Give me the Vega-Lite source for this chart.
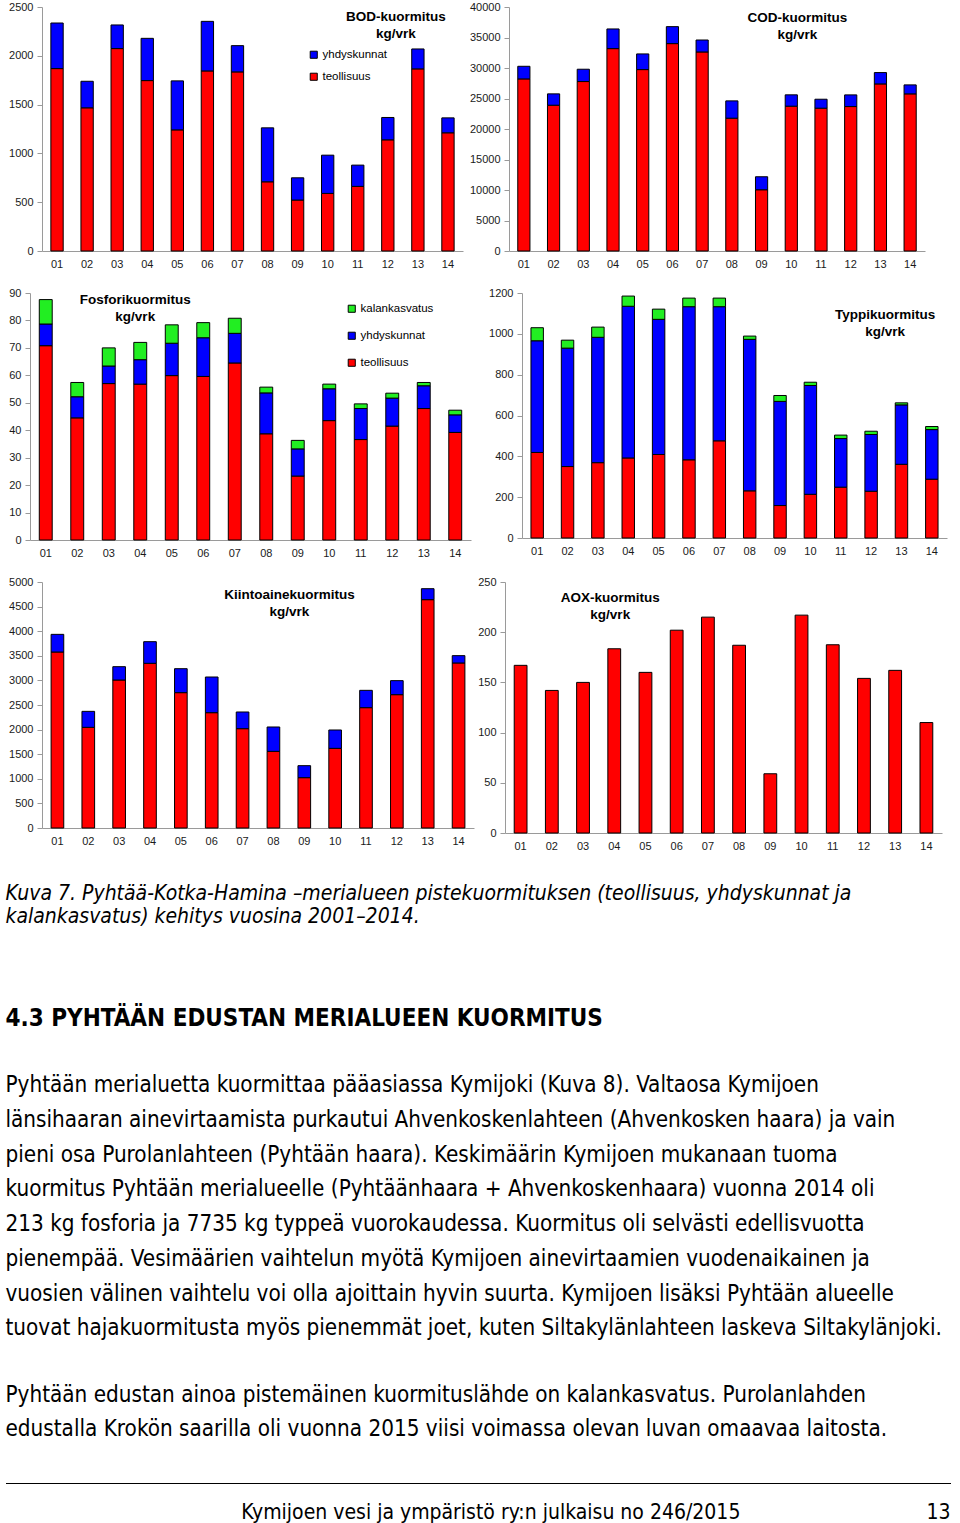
{
  "$schema": "https://vega.github.io/schema/vega-lite/v6.json",
  "padding": {"left": 5, "top": 1, "right": 0, "bottom": 0},
  "background": "white",
  "spacing": 32,
  "resolve": {"scale": {"color": "independent", "x": "independent", "y": "independent"}, "legend": {"color": "independent"}},
  "datasets": {
    "lahteet": [
      {"lahde": "teollisuus", "jarjestys": 1},
      {"lahde": "yhdyskunnat", "jarjestys": 2},
      {"lahde": "kalankasvatus", "jarjestys": 3}
    ],
    "bod": [
      {"vuosi": "01", "lahde": "teollisuus", "kuorma": 1869}, {"vuosi": "01", "lahde": "yhdyskunnat", "kuorma": 467},
      {"vuosi": "02", "lahde": "teollisuus", "kuorma": 1467}, {"vuosi": "02", "lahde": "yhdyskunnat", "kuorma": 272},
      {"vuosi": "03", "lahde": "teollisuus", "kuorma": 2074}, {"vuosi": "03", "lahde": "yhdyskunnat", "kuorma": 242},
      {"vuosi": "04", "lahde": "teollisuus", "kuorma": 1746}, {"vuosi": "04", "lahde": "yhdyskunnat", "kuorma": 433},
      {"vuosi": "05", "lahde": "teollisuus", "kuorma": 1241}, {"vuosi": "05", "lahde": "yhdyskunnat", "kuorma": 502},
      {"vuosi": "06", "lahde": "teollisuus", "kuorma": 1845}, {"vuosi": "06", "lahde": "yhdyskunnat", "kuorma": 508},
      {"vuosi": "07", "lahde": "teollisuus", "kuorma": 1835}, {"vuosi": "07", "lahde": "yhdyskunnat", "kuorma": 269},
      {"vuosi": "08", "lahde": "teollisuus", "kuorma": 709}, {"vuosi": "08", "lahde": "yhdyskunnat", "kuorma": 553},
      {"vuosi": "09", "lahde": "teollisuus", "kuorma": 522}, {"vuosi": "09", "lahde": "yhdyskunnat", "kuorma": 228},
      {"vuosi": "10", "lahde": "teollisuus", "kuorma": 590}, {"vuosi": "10", "lahde": "yhdyskunnat", "kuorma": 392},
      {"vuosi": "11", "lahde": "teollisuus", "kuorma": 662}, {"vuosi": "11", "lahde": "yhdyskunnat", "kuorma": 218},
      {"vuosi": "12", "lahde": "teollisuus", "kuorma": 1139}, {"vuosi": "12", "lahde": "yhdyskunnat", "kuorma": 229},
      {"vuosi": "13", "lahde": "teollisuus", "kuorma": 1866}, {"vuosi": "13", "lahde": "yhdyskunnat", "kuorma": 204},
      {"vuosi": "14", "lahde": "teollisuus", "kuorma": 1211}, {"vuosi": "14", "lahde": "yhdyskunnat", "kuorma": 153}
    ],
    "cod": [
      {"vuosi": "01", "lahde": "teollisuus", "kuorma": 28210}, {"vuosi": "01", "lahde": "yhdyskunnat", "kuorma": 2070},
      {"vuosi": "02", "lahde": "teollisuus", "kuorma": 23900}, {"vuosi": "02", "lahde": "yhdyskunnat", "kuorma": 1860},
      {"vuosi": "03", "lahde": "teollisuus", "kuorma": 27780}, {"vuosi": "03", "lahde": "yhdyskunnat", "kuorma": 2020},
      {"vuosi": "04", "lahde": "teollisuus", "kuorma": 33180}, {"vuosi": "04", "lahde": "yhdyskunnat", "kuorma": 3220},
      {"vuosi": "05", "lahde": "teollisuus", "kuorma": 29740}, {"vuosi": "05", "lahde": "yhdyskunnat", "kuorma": 2570},
      {"vuosi": "06", "lahde": "teollisuus", "kuorma": 34000}, {"vuosi": "06", "lahde": "yhdyskunnat", "kuorma": 2780},
      {"vuosi": "07", "lahde": "teollisuus", "kuorma": 32630}, {"vuosi": "07", "lahde": "yhdyskunnat", "kuorma": 1960},
      {"vuosi": "08", "lahde": "teollisuus", "kuorma": 21770}, {"vuosi": "08", "lahde": "yhdyskunnat", "kuorma": 2840},
      {"vuosi": "09", "lahde": "teollisuus", "kuorma": 10040}, {"vuosi": "09", "lahde": "yhdyskunnat", "kuorma": 2130},
      {"vuosi": "10", "lahde": "teollisuus", "kuorma": 23740}, {"vuosi": "10", "lahde": "yhdyskunnat", "kuorma": 1860},
      {"vuosi": "11", "lahde": "teollisuus", "kuorma": 23410}, {"vuosi": "11", "lahde": "yhdyskunnat", "kuorma": 1470},
      {"vuosi": "12", "lahde": "teollisuus", "kuorma": 23680}, {"vuosi": "12", "lahde": "yhdyskunnat", "kuorma": 1910},
      {"vuosi": "13", "lahde": "teollisuus", "kuorma": 27390}, {"vuosi": "13", "lahde": "yhdyskunnat", "kuorma": 1860},
      {"vuosi": "14", "lahde": "teollisuus", "kuorma": 25760}, {"vuosi": "14", "lahde": "yhdyskunnat", "kuorma": 1470}
    ],
    "fosfori": [
      {"vuosi": "01", "lahde": "teollisuus", "kuorma": 70.8}, {"vuosi": "01", "lahde": "yhdyskunnat", "kuorma": 7.9}, {"vuosi": "01", "lahde": "kalankasvatus", "kuorma": 8.9},
      {"vuosi": "02", "lahde": "teollisuus", "kuorma": 44.5}, {"vuosi": "02", "lahde": "yhdyskunnat", "kuorma": 7.7}, {"vuosi": "02", "lahde": "kalankasvatus", "kuorma": 5.2},
      {"vuosi": "03", "lahde": "teollisuus", "kuorma": 57.0}, {"vuosi": "03", "lahde": "yhdyskunnat", "kuorma": 6.4}, {"vuosi": "03", "lahde": "kalankasvatus", "kuorma": 6.6},
      {"vuosi": "04", "lahde": "teollisuus", "kuorma": 56.8}, {"vuosi": "04", "lahde": "yhdyskunnat", "kuorma": 8.9}, {"vuosi": "04", "lahde": "kalankasvatus", "kuorma": 6.3},
      {"vuosi": "05", "lahde": "teollisuus", "kuorma": 59.9}, {"vuosi": "05", "lahde": "yhdyskunnat", "kuorma": 11.8}, {"vuosi": "05", "lahde": "kalankasvatus", "kuorma": 6.7},
      {"vuosi": "06", "lahde": "teollisuus", "kuorma": 59.6}, {"vuosi": "06", "lahde": "yhdyskunnat", "kuorma": 14.1}, {"vuosi": "06", "lahde": "kalankasvatus", "kuorma": 5.5},
      {"vuosi": "07", "lahde": "teollisuus", "kuorma": 64.5}, {"vuosi": "07", "lahde": "yhdyskunnat", "kuorma": 10.8}, {"vuosi": "07", "lahde": "kalankasvatus", "kuorma": 5.5},
      {"vuosi": "08", "lahde": "teollisuus", "kuorma": 38.7}, {"vuosi": "08", "lahde": "yhdyskunnat", "kuorma": 14.9}, {"vuosi": "08", "lahde": "kalankasvatus", "kuorma": 2.1},
      {"vuosi": "09", "lahde": "teollisuus", "kuorma": 23.3}, {"vuosi": "09", "lahde": "yhdyskunnat", "kuorma": 9.9}, {"vuosi": "09", "lahde": "kalankasvatus", "kuorma": 3.1},
      {"vuosi": "10", "lahde": "teollisuus", "kuorma": 43.5}, {"vuosi": "10", "lahde": "yhdyskunnat", "kuorma": 11.6}, {"vuosi": "10", "lahde": "kalankasvatus", "kuorma": 1.7},
      {"vuosi": "11", "lahde": "teollisuus", "kuorma": 36.6}, {"vuosi": "11", "lahde": "yhdyskunnat", "kuorma": 11.3}, {"vuosi": "11", "lahde": "kalankasvatus", "kuorma": 1.7},
      {"vuosi": "12", "lahde": "teollisuus", "kuorma": 41.5}, {"vuosi": "12", "lahde": "yhdyskunnat", "kuorma": 10.2}, {"vuosi": "12", "lahde": "kalankasvatus", "kuorma": 1.8},
      {"vuosi": "13", "lahde": "teollisuus", "kuorma": 47.9}, {"vuosi": "13", "lahde": "yhdyskunnat", "kuorma": 8.3}, {"vuosi": "13", "lahde": "kalankasvatus", "kuorma": 1.2},
      {"vuosi": "14", "lahde": "teollisuus", "kuorma": 39.2}, {"vuosi": "14", "lahde": "yhdyskunnat", "kuorma": 6.4}, {"vuosi": "14", "lahde": "kalankasvatus", "kuorma": 1.7}
    ],
    "typpi": [
      {"vuosi": "01", "lahde": "teollisuus", "kuorma": 419}, {"vuosi": "01", "lahde": "yhdyskunnat", "kuorma": 547}, {"vuosi": "01", "lahde": "kalankasvatus", "kuorma": 64},
      {"vuosi": "02", "lahde": "teollisuus", "kuorma": 350}, {"vuosi": "02", "lahde": "yhdyskunnat", "kuorma": 580}, {"vuosi": "02", "lahde": "kalankasvatus", "kuorma": 39},
      {"vuosi": "03", "lahde": "teollisuus", "kuorma": 369}, {"vuosi": "03", "lahde": "yhdyskunnat", "kuorma": 614}, {"vuosi": "03", "lahde": "kalankasvatus", "kuorma": 50},
      {"vuosi": "04", "lahde": "teollisuus", "kuorma": 392}, {"vuosi": "04", "lahde": "yhdyskunnat", "kuorma": 743}, {"vuosi": "04", "lahde": "kalankasvatus", "kuorma": 50},
      {"vuosi": "05", "lahde": "teollisuus", "kuorma": 409}, {"vuosi": "05", "lahde": "yhdyskunnat", "kuorma": 662}, {"vuosi": "05", "lahde": "kalankasvatus", "kuorma": 50},
      {"vuosi": "06", "lahde": "teollisuus", "kuorma": 383}, {"vuosi": "06", "lahde": "yhdyskunnat", "kuorma": 750}, {"vuosi": "06", "lahde": "kalankasvatus", "kuorma": 42},
      {"vuosi": "07", "lahde": "teollisuus", "kuorma": 476}, {"vuosi": "07", "lahde": "yhdyskunnat", "kuorma": 657}, {"vuosi": "07", "lahde": "kalankasvatus", "kuorma": 42},
      {"vuosi": "08", "lahde": "teollisuus", "kuorma": 231}, {"vuosi": "08", "lahde": "yhdyskunnat", "kuorma": 742}, {"vuosi": "08", "lahde": "kalankasvatus", "kuorma": 16},
      {"vuosi": "09", "lahde": "teollisuus", "kuorma": 159}, {"vuosi": "09", "lahde": "yhdyskunnat", "kuorma": 510}, {"vuosi": "09", "lahde": "kalankasvatus", "kuorma": 29},
      {"vuosi": "10", "lahde": "teollisuus", "kuorma": 214}, {"vuosi": "10", "lahde": "yhdyskunnat", "kuorma": 533}, {"vuosi": "10", "lahde": "kalankasvatus", "kuorma": 16},
      {"vuosi": "11", "lahde": "teollisuus", "kuorma": 249}, {"vuosi": "11", "lahde": "yhdyskunnat", "kuorma": 238}, {"vuosi": "11", "lahde": "kalankasvatus", "kuorma": 17},
      {"vuosi": "12", "lahde": "teollisuus", "kuorma": 229}, {"vuosi": "12", "lahde": "yhdyskunnat", "kuorma": 278}, {"vuosi": "12", "lahde": "kalankasvatus", "kuorma": 16},
      {"vuosi": "13", "lahde": "teollisuus", "kuorma": 361}, {"vuosi": "13", "lahde": "yhdyskunnat", "kuorma": 291}, {"vuosi": "13", "lahde": "kalankasvatus", "kuorma": 10},
      {"vuosi": "14", "lahde": "teollisuus", "kuorma": 288}, {"vuosi": "14", "lahde": "yhdyskunnat", "kuorma": 243}, {"vuosi": "14", "lahde": "kalankasvatus", "kuorma": 15}
    ],
    "kiintoaine": [
      {"vuosi": "01", "lahde": "teollisuus", "kuorma": 3577}, {"vuosi": "01", "lahde": "yhdyskunnat", "kuorma": 359},
      {"vuosi": "02", "lahde": "teollisuus", "kuorma": 2046}, {"vuosi": "02", "lahde": "yhdyskunnat", "kuorma": 325},
      {"vuosi": "03", "lahde": "teollisuus", "kuorma": 3008}, {"vuosi": "03", "lahde": "yhdyskunnat", "kuorma": 271},
      {"vuosi": "04", "lahde": "teollisuus", "kuorma": 3347}, {"vuosi": "04", "lahde": "yhdyskunnat", "kuorma": 440},
      {"vuosi": "05", "lahde": "teollisuus", "kuorma": 2751}, {"vuosi": "05", "lahde": "yhdyskunnat", "kuorma": 487},
      {"vuosi": "06", "lahde": "teollisuus", "kuorma": 2344}, {"vuosi": "06", "lahde": "yhdyskunnat", "kuorma": 725},
      {"vuosi": "07", "lahde": "teollisuus", "kuorma": 2019}, {"vuosi": "07", "lahde": "yhdyskunnat", "kuorma": 339},
      {"vuosi": "08", "lahde": "teollisuus", "kuorma": 1558}, {"vuosi": "08", "lahde": "yhdyskunnat", "kuorma": 495},
      {"vuosi": "09", "lahde": "teollisuus", "kuorma": 1023}, {"vuosi": "09", "lahde": "yhdyskunnat", "kuorma": 244},
      {"vuosi": "10", "lahde": "teollisuus", "kuorma": 1619}, {"vuosi": "10", "lahde": "yhdyskunnat", "kuorma": 373},
      {"vuosi": "11", "lahde": "teollisuus", "kuorma": 2446}, {"vuosi": "11", "lahde": "yhdyskunnat", "kuorma": 352},
      {"vuosi": "12", "lahde": "teollisuus", "kuorma": 2710}, {"vuosi": "12", "lahde": "yhdyskunnat", "kuorma": 285},
      {"vuosi": "13", "lahde": "teollisuus", "kuorma": 4641}, {"vuosi": "13", "lahde": "yhdyskunnat", "kuorma": 223},
      {"vuosi": "14", "lahde": "teollisuus", "kuorma": 3354}, {"vuosi": "14", "lahde": "yhdyskunnat", "kuorma": 149}
    ],
    "aox": [
      {"vuosi": "01", "lahde": "teollisuus", "kuorma": 167}, {"vuosi": "02", "lahde": "teollisuus", "kuorma": 142},
      {"vuosi": "03", "lahde": "teollisuus", "kuorma": 150}, {"vuosi": "04", "lahde": "teollisuus", "kuorma": 183.5},
      {"vuosi": "05", "lahde": "teollisuus", "kuorma": 160}, {"vuosi": "06", "lahde": "teollisuus", "kuorma": 202},
      {"vuosi": "07", "lahde": "teollisuus", "kuorma": 215}, {"vuosi": "08", "lahde": "teollisuus", "kuorma": 187},
      {"vuosi": "09", "lahde": "teollisuus", "kuorma": 59}, {"vuosi": "10", "lahde": "teollisuus", "kuorma": 217},
      {"vuosi": "11", "lahde": "teollisuus", "kuorma": 187.5}, {"vuosi": "12", "lahde": "teollisuus", "kuorma": 154},
      {"vuosi": "13", "lahde": "teollisuus", "kuorma": 162}, {"vuosi": "14", "lahde": "teollisuus", "kuorma": 110}
    ],
    "kuvateksti": [
      {"rivi": 1, "teksti": "Kuva 7. Pyhtää-Kotka-Hamina –merialueen pistekuormituksen (teollisuus, yhdyskunnat ja"},
      {"rivi": 2, "teksti": "kalankasvatus) kehitys vuosina 2001–2014."}
    ],
    "otsikko": [
      {"rivi": 1, "teksti": "4.3  PYHTÄÄN EDUSTAN MERIALUEEN KUORMITUS"}
    ],
    "kappale1": [
      {"rivi": 1, "teksti": "Pyhtään merialuetta kuormittaa pääasiassa Kymijoki (Kuva 8). Valtaosa Kymijoen"},
      {"rivi": 2, "teksti": "länsihaaran ainevirtaamista purkautui Ahvenkoskenlahteen (Ahvenkosken haara) ja vain"},
      {"rivi": 3, "teksti": "pieni osa Purolanlahteen (Pyhtään haara). Keskimäärin Kymijoen mukanaan tuoma"},
      {"rivi": 4, "teksti": "kuormitus Pyhtään merialueelle (Pyhtäänhaara + Ahvenkoskenhaara) vuonna 2014 oli"},
      {"rivi": 5, "teksti": "213 kg fosforia ja 7735 kg typpeä vuorokaudessa. Kuormitus oli selvästi edellisvuotta"},
      {"rivi": 6, "teksti": "pienempää. Vesimäärien vaihtelun myötä Kymijoen ainevirtaamien vuodenaikainen ja"},
      {"rivi": 7, "teksti": "vuosien välinen vaihtelu voi olla ajoittain hyvin suurta. Kymijoen lisäksi Pyhtään alueelle"},
      {"rivi": 8, "teksti": "tuovat hajakuormitusta myös pienemmät joet, kuten Siltakylänlahteen laskeva Siltakylänjoki."}
    ],
    "kappale2": [
      {"rivi": 1, "teksti": "Pyhtään edustan ainoa pistemäinen kuormituslähde on kalankasvatus. Purolanlahden"},
      {"rivi": 2, "teksti": "edustalla Krokön saarilla oli vuonna 2015 viisi voimassa olevan luvan omaavaa laitosta."}
    ]
  },
  "vconcat": [
    {
      "spacing": 18,
      "resolve": {"scale": {"color": "independent", "x": "independent", "y": "independent"}, "legend": {"color": "independent"}},
      "vconcat": [
        {
          "spacing": 6,
          "resolve": {"scale": {"color": "independent", "x": "independent", "y": "independent"}, "legend": {"color": "independent"}},
          "hconcat": [
            {
              "width": 421, "height": 244,
              "layer": [
                {
                  "data": {"name": "bod"},
                  "transform": [{"lookup": "lahde", "from": {"data": {"name": "lahteet"}, "key": "lahde", "fields": ["jarjestys"]}}],
                  "mark": {"type": "bar", "stroke": "#000000", "strokeWidth": 1},
                  "encoding": {
                    "x": {"field": "vuosi", "type": "ordinal", "scale": {"paddingInner": 0.59, "paddingOuter": 0.295}, "axis": {"title": null}},
                    "y": {"field": "kuorma", "type": "quantitative", "stack": "zero", "scale": {"domain": [0, 2500], "nice": false}, "axis": {"title": null, "values": [0, 500, 1000, 1500, 2000, 2500]}},
                    "order": {"field": "jarjestys", "type": "quantitative", "sort": "ascending"},
                    "color": {"field": "lahde", "type": "nominal", "scale": {"domain": ["yhdyskunnat", "teollisuus"], "range": ["#0000FF", "#FF0000"]},
                      "legend": {"title": null, "orient": "none", "legendX": 266, "legendY": 42, "symbolType": "square", "symbolSize": 50, "symbolStrokeColor": "#000000", "symbolStrokeWidth": 1, "labelFont": "Liberation Sans", "labelFontSize": 11.5, "labelColor": "#000000", "rowPadding": 9, "labelOffset": 3}}
                  }
                },
                {
                  "data": {"values": [{}]},
                  "mark": {"type": "text", "text": ["BOD-kuormitus", "kg/vrk"], "font": "Liberation Sans", "fontWeight": "bold", "fontSize": 13.5, "lineHeight": 17, "align": "center", "baseline": "top", "dx": 8, "dy": 3},
                  "encoding": {"x": {"datum": "12", "type": "ordinal", "axis": {"title": null}}, "y": {"datum": 2500, "type": "quantitative", "axis": {"title": null, "values": [0, 500, 1000, 1500, 2000, 2500]}}}
                }
              ]
            },
            {
              "width": 416, "height": 244,
              "layer": [
                {
                  "data": {"name": "cod"},
                  "transform": [{"lookup": "lahde", "from": {"data": {"name": "lahteet"}, "key": "lahde", "fields": ["jarjestys"]}}],
                  "mark": {"type": "bar", "stroke": "#000000", "strokeWidth": 1},
                  "encoding": {
                    "x": {"field": "vuosi", "type": "ordinal", "scale": {"paddingInner": 0.59, "paddingOuter": 0.295}, "axis": {"title": null}},
                    "y": {"field": "kuorma", "type": "quantitative", "stack": "zero", "scale": {"domain": [0, 40000], "nice": false}, "axis": {"title": null, "values": [0, 5000, 10000, 15000, 20000, 25000, 30000, 35000, 40000]}},
                    "order": {"field": "jarjestys", "type": "quantitative", "sort": "ascending"},
                    "color": {"field": "lahde", "type": "nominal", "scale": {"domain": ["yhdyskunnat", "teollisuus"], "range": ["#0000FF", "#FF0000"]}, "legend": null}
                  }
                },
                {
                  "data": {"values": [{}]},
                  "mark": {"type": "text", "text": ["COD-kuormitus", "kg/vrk"], "font": "Liberation Sans", "fontWeight": "bold", "fontSize": 13.5, "lineHeight": 17, "align": "center", "baseline": "top", "dx": 6, "dy": 4},
                  "encoding": {"x": {"datum": "10", "type": "ordinal", "axis": {"title": null}}, "y": {"datum": 40000, "type": "quantitative", "axis": {"title": null, "values": [0, 5000, 10000, 15000, 20000, 25000, 30000, 35000, 40000]}}}
                }
              ]
            }
          ]
        },
        {
          "spacing": 5,
          "resolve": {"scale": {"color": "independent", "x": "independent", "y": "independent"}, "legend": {"color": "independent"}},
          "hconcat": [
            {
              "width": 429, "height": 247,
              "layer": [
                {
                  "data": {"name": "fosfori"},
                  "transform": [{"lookup": "lahde", "from": {"data": {"name": "lahteet"}, "key": "lahde", "fields": ["jarjestys"]}}],
                  "mark": {"type": "bar", "stroke": "#000000", "strokeWidth": 1},
                  "encoding": {
                    "x": {"field": "vuosi", "type": "ordinal", "scale": {"paddingInner": 0.59, "paddingOuter": 0.295, "range": [-12, 429]}, "axis": {"title": null}},
                    "y": {"field": "kuorma", "type": "quantitative", "stack": "zero", "scale": {"domain": [0, 90], "nice": false}, "axis": {"title": null, "offset": 12, "values": [0, 10, 20, 30, 40, 50, 60, 70, 80, 90]}},
                    "order": {"field": "jarjestys", "type": "quantitative", "sort": "ascending"},
                    "color": {"field": "lahde", "type": "nominal", "scale": {"domain": ["kalankasvatus", "yhdyskunnat", "teollisuus"], "range": ["#22EE22", "#0000FF", "#FF0000"]},
                      "legend": {"title": null, "orient": "none", "legendX": 304, "legendY": 10, "symbolType": "square", "symbolSize": 50, "symbolStrokeColor": "#000000", "symbolStrokeWidth": 1, "labelFont": "Liberation Sans", "labelFontSize": 11.5, "labelColor": "#000000", "rowPadding": 14, "labelOffset": 3}}
                  }
                },
                {
                  "data": {"values": [{}]},
                  "mark": {"type": "text", "text": ["Fosforikuormitus", "kg/vrk"], "font": "Liberation Sans", "fontWeight": "bold", "fontSize": 13.5, "lineHeight": 17, "align": "center", "baseline": "top", "dx": -5, "dy": 0},
                  "encoding": {"x": {"datum": "04", "type": "ordinal", "axis": {"title": null}}, "y": {"datum": 90, "type": "quantitative", "axis": {"title": null, "offset": 12, "values": [0, 10, 20, 30, 40, 50, 60, 70, 80, 90]}}}
                }
              ]
            },
            {
              "width": 425, "height": 245,
              "layer": [
                {
                  "data": {"name": "typpi"},
                  "transform": [{"lookup": "lahde", "from": {"data": {"name": "lahteet"}, "key": "lahde", "fields": ["jarjestys"]}}],
                  "mark": {"type": "bar", "stroke": "#000000", "strokeWidth": 1},
                  "encoding": {
                    "x": {"field": "vuosi", "type": "ordinal", "scale": {"paddingInner": 0.59, "paddingOuter": 0.295}, "axis": {"title": null}},
                    "y": {"field": "kuorma", "type": "quantitative", "stack": "zero", "scale": {"domain": [0, 1200], "nice": false}, "axis": {"title": null, "values": [0, 200, 400, 600, 800, 1000, 1200]}},
                    "order": {"field": "jarjestys", "type": "quantitative", "sort": "ascending"},
                    "color": {"field": "lahde", "type": "nominal", "scale": {"domain": ["kalankasvatus", "yhdyskunnat", "teollisuus"], "range": ["#22EE22", "#0000FF", "#FF0000"]}, "legend": null}
                  }
                },
                {
                  "data": {"values": [{}]},
                  "mark": {"type": "text", "text": ["Typpikuormitus", "kg/vrk"], "font": "Liberation Sans", "fontWeight": "bold", "fontSize": 13.5, "lineHeight": 17, "align": "center", "baseline": "top", "dx": 14, "dy": 15},
                  "encoding": {"x": {"datum": "12", "type": "ordinal", "axis": {"title": null}}, "y": {"datum": 1200, "type": "quantitative", "axis": {"title": null, "values": [0, 200, 400, 600, 800, 1000, 1200]}}}
                }
              ]
            }
          ]
        },
        {
          "spacing": 3,
          "resolve": {"scale": {"color": "independent", "x": "independent", "y": "independent"}, "legend": {"color": "independent"}},
          "hconcat": [
            {
              "width": 432, "height": 246,
              "layer": [
                {
                  "data": {"name": "kiintoaine"},
                  "transform": [{"lookup": "lahde", "from": {"data": {"name": "lahteet"}, "key": "lahde", "fields": ["jarjestys"]}}],
                  "mark": {"type": "bar", "stroke": "#000000", "strokeWidth": 1},
                  "encoding": {
                    "x": {"field": "vuosi", "type": "ordinal", "scale": {"paddingInner": 0.59, "paddingOuter": 0.295}, "axis": {"title": null}},
                    "y": {"field": "kuorma", "type": "quantitative", "stack": "zero", "scale": {"domain": [0, 5000], "nice": false}, "axis": {"title": null, "values": [0, 500, 1000, 1500, 2000, 2500, 3000, 3500, 4000, 4500, 5000]}},
                    "order": {"field": "jarjestys", "type": "quantitative", "sort": "ascending"},
                    "color": {"field": "lahde", "type": "nominal", "scale": {"domain": ["yhdyskunnat", "teollisuus"], "range": ["#0000FF", "#FF0000"]}, "legend": null}
                  }
                },
                {
                  "data": {"values": [{}]},
                  "mark": {"type": "text", "text": ["Kiintoainekuormitus", "kg/vrk"], "font": "Liberation Sans", "fontWeight": "bold", "fontSize": 13.5, "lineHeight": 17, "align": "center", "baseline": "top", "dx": 16, "dy": 6},
                  "encoding": {"x": {"datum": "08", "type": "ordinal", "axis": {"title": null}}, "y": {"datum": 5000, "type": "quantitative", "axis": {"title": null, "values": [0, 500, 1000, 1500, 2000, 2500, 3000, 3500, 4000, 4500, 5000]}}}
                }
              ]
            },
            {
              "width": 437, "height": 251,
              "layer": [
                {
                  "data": {"name": "aox"},
                  "mark": {"type": "bar", "stroke": "#000000", "strokeWidth": 1},
                  "encoding": {
                    "x": {"field": "vuosi", "type": "ordinal", "scale": {"paddingInner": 0.59, "paddingOuter": 0.295}, "axis": {"title": null}},
                    "y": {"field": "kuorma", "type": "quantitative", "stack": "zero", "scale": {"domain": [0, 250], "nice": false}, "axis": {"title": null, "values": [0, 50, 100, 150, 200, 250]}},
                    "color": {"field": "lahde", "type": "nominal", "scale": {"domain": ["teollisuus"], "range": ["#FF0000"]}, "legend": null}
                  }
                },
                {
                  "data": {"values": [{}]},
                  "mark": {"type": "text", "text": ["AOX-kuormitus", "kg/vrk"], "font": "Liberation Sans", "fontWeight": "bold", "fontSize": 13.5, "lineHeight": 17, "align": "center", "baseline": "top", "dx": -4, "dy": 9},
                  "encoding": {"x": {"datum": "04", "type": "ordinal", "axis": {"title": null}}, "y": {"datum": 250, "type": "quantitative", "axis": {"title": null, "values": [0, 50, 100, 150, 200, 250]}}}
                }
              ]
            }
          ]
        }
      ]
    },
    {
      "width": 908, "height": 92,
      "data": {"name": "kuvateksti"},
      "mark": {"type": "text", "align": "left", "baseline": "top", "font": "Liberation Sans Narrow, DejaVu Sans Condensed, Liberation Sans", "fontStyle": "italic", "fontSize": 21, "dx": -36.5, "color": "#000000"},
      "encoding": {
        "x": {"datum": 0, "type": "quantitative", "scale": {"domain": [0, 1]}, "axis": null},
        "y": {"field": "rivi", "type": "ordinal", "scale": {"type": "point", "domain": [1, 2, 3, 4, 5], "padding": 0, "align": 0}, "axis": null},
        "text": {"field": "teksti"}
      }
    },
    {
      "width": 908, "height": 35,
      "data": {"name": "otsikko"},
      "mark": {"type": "text", "align": "left", "baseline": "top", "font": "Liberation Sans Narrow, DejaVu Sans Condensed, Liberation Sans", "fontWeight": "bold", "fontSize": 24, "dx": -36.5, "color": "#000000"},
      "encoding": {
        "x": {"datum": 0, "type": "quantitative", "scale": {"domain": [0, 1]}, "axis": null},
        "y": {"field": "rivi", "type": "ordinal", "scale": {"type": "point", "padding": 0, "align": 0}, "axis": null},
        "text": {"field": "teksti"}
      }
    },
    {
      "width": 908, "height": 278,
      "data": {"name": "kappale1"},
      "mark": {"type": "text", "align": "left", "baseline": "top", "font": "Liberation Sans Narrow, DejaVu Sans Condensed, Liberation Sans", "fontSize": 22.3, "dx": -36.5, "color": "#000000"},
      "encoding": {
        "x": {"datum": 0, "type": "quantitative", "scale": {"domain": [0, 1]}, "axis": null},
        "y": {"field": "rivi", "type": "ordinal", "scale": {"type": "point", "domain": [1, 2, 3, 4, 5, 6, 7, 8, 9], "padding": 0, "align": 0}, "axis": null},
        "text": {"field": "teksti"}
      }
    },
    {
      "width": 908, "height": 67,
      "data": {"name": "kappale2"},
      "mark": {"type": "text", "align": "left", "baseline": "top", "font": "Liberation Sans Narrow, DejaVu Sans Condensed, Liberation Sans", "fontSize": 22.3, "dx": -36.5, "color": "#000000"},
      "encoding": {
        "x": {"datum": 0, "type": "quantitative", "scale": {"domain": [0, 1]}, "axis": null},
        "y": {"field": "rivi", "type": "ordinal", "scale": {"type": "point", "domain": [1, 2, 3], "padding": 0, "align": 0}, "axis": null},
        "text": {"field": "teksti"}
      }
    },
    {
      "width": 867, "height": 19,
      "layer": [
        {
          "data": {"values": [{"rivi": 1, "teksti": "Kymijoen vesi ja ympäristö ry:n julkaisu no 246/2015"}]},
          "mark": {"type": "text", "align": "center", "baseline": "top", "font": "Liberation Sans Narrow, DejaVu Sans Condensed, Liberation Sans", "fontSize": 21, "color": "#000000"},
          "encoding": {
            "x": {"datum": 0.5135, "type": "quantitative", "scale": {"domain": [0, 1], "range": [-36.5, 908.5]}, "axis": {"orient": "top", "labels": false, "ticks": false, "grid": false, "domain": true, "domainColor": "#000000", "domainWidth": 1, "title": null}},
            "y": {"field": "rivi", "type": "ordinal", "scale": {"type": "point", "padding": 0, "align": 1}, "axis": null},
            "text": {"field": "teksti"}
          }
        },
        {
          "data": {"values": [{"rivi": 1, "teksti": "13"}]},
          "mark": {"type": "text", "align": "right", "baseline": "top", "font": "Liberation Sans Narrow, DejaVu Sans Condensed, Liberation Sans", "fontSize": 21, "color": "#000000"},
          "encoding": {
            "x": {"datum": 1, "type": "quantitative", "axis": {"orient": "top", "labels": false, "ticks": false, "grid": false, "domain": true, "domainColor": "#000000", "domainWidth": 1, "title": null}},
            "y": {"field": "rivi", "type": "ordinal", "axis": null},
            "text": {"field": "teksti"}
          }
        }
      ]
    }
  ],
  "config": {
    "view": {"stroke": null},
    "font": "Liberation Sans",
    "axis": {"labelFont": "Liberation Sans", "labelFontSize": 11, "labelColor": "#1a1a1a", "domainColor": "#9a9a9a", "tickColor": "#9a9a9a", "grid": false},
    "axisX": {"ticks": false, "tickSize": 0, "labelPadding": 7, "labelAngle": 0},
    "axisY": {"tickSize": 5, "labelPadding": 4, "labelOverlap": false, "format": "d"}
  }
}
